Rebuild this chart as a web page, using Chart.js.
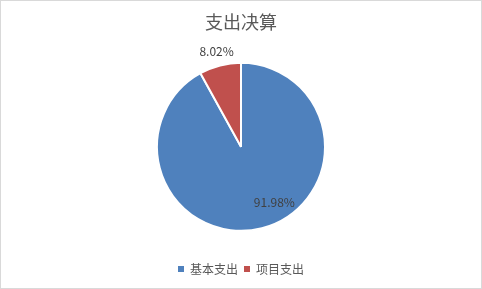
<!DOCTYPE html>
<html>
<head>
<meta charset="utf-8">
<script src="https://cdn.jsdelivr.net/npm/chart.js@4.4.0/dist/chart.umd.min.js"></script>
<style>
  html, body { margin: 0; padding: 0; background: #fff; }
  #wrap { width: 482px; height: 289px; box-sizing: border-box; border: 1px solid #d9d9d9; }
  canvas { display: block; }
</style>
</head>
<body>
<div id="wrap"><canvas id="pie" width="480" height="287"></canvas></div>
<script>
// data
const categories = ['基本支出', '项目支出'];
const shares = [91.98, 8.02];
const sliceColors = ['#4F81BD', '#C0504D'];

const textColor = '#404040';
const fontFamily = '"Noto Sans CJK SC", "Noto Sans", sans-serif';

// data labels: blue sits inside (best fit), red sits outside its slice
const pieLabels = {
    id: 'pieLabels',
    afterDatasetsDraw(chart) {
        const ctx = chart.ctx;
        const meta = chart.getDatasetMeta(0);
        ctx.save();
        ctx.font = '12px ' + fontFamily;
        ctx.fillStyle = textColor;
        ctx.textAlign = 'center';
        ctx.textBaseline = 'middle';
        meta.data.forEach((arc, i) => {
            const { x, y, startAngle, endAngle, outerRadius } = arc.getProps(['x', 'y', 'startAngle', 'endAngle', 'outerRadius'], true);
            let angle = (startAngle + endAngle) / 2;
            let dist;
            if (i === 0) {
                angle -= 0.29;
                dist = outerRadius * 0.77;
            } else {
                dist = outerRadius + 14;
            }
            const txt = shares[i].toFixed(2) + '%';
            ctx.fillText(txt, x + Math.cos(angle) * dist, y + Math.sin(angle) * dist);
        });
        ctx.restore();
    }
};

const pieLegendDefaults = Chart.controllers.pie.overrides.plugins.legend.labels.generateLabels;

new Chart(document.getElementById('pie'), {
    type: 'pie',
    data: {
        labels: categories,
        datasets: [{
            data: shares,
            backgroundColor: sliceColors,
            borderColor: '#ffffff',
            borderWidth: 2,
            radius: 84
        }]
    },
    options: {
        responsive: false,
        animation: false,
        layout: { padding: { top: 0, bottom: 3 } },
        plugins: {
            title: {
                display: true,
                text: '支出决算',
                color: '#595959',
                font: { family: fontFamily, size: 18, weight: 'normal' },
                padding: { top: 10, bottom: 4 }
            },
            legend: {
                position: 'bottom',
                labels: {
                    color: '#595959',
                    font: { family: fontFamily, size: 12 },
                    boxWidth: 6,
                    boxHeight: 6,
                    padding: 6,
                    generateLabels: (chart) => pieLegendDefaults(chart).map(item => ({ ...item, lineWidth: 0 }))
                }
            },
            tooltip: { enabled: false }
        }
    },
    plugins: [pieLabels]
});
</script>
</body>
</html>
